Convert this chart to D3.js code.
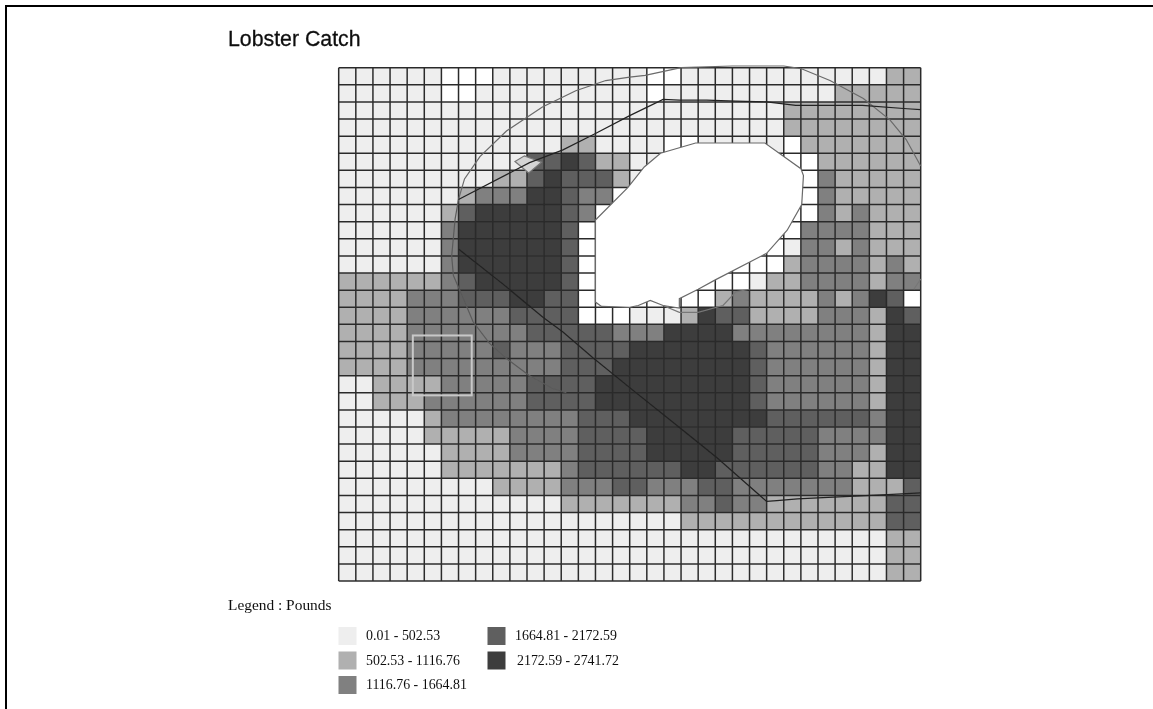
<!DOCTYPE html>
<html><head><meta charset="utf-8">
<script src="https://d3js.org/d3.v7.min.js"></script>
<style>html,body{margin:0;padding:0;background:#fff}svg{display:block}</style>
</head><body><svg id="c" width="1153" height="709"></svg>
<script>
// Catch class per cell, 30 rows of 34 columns: 0 = no catch, 1..5 = legend classes
const catchWest = [
"11111100011111111","11111100111111111","11111111111111111","11111111111111111",
"11111111111112211","11111111111445422","11111111122454442","11111112333554330",
"11111124555554300","11111135555554000","11111135555554000","11111135555554000",
"22222234555554000","22223334445544000","22223333334444000","22223333333444443",
"22223333343334444","22223333333334445","11222233333444455","11222333333444455",
"11111233333333444","11111222223333444","11111122223333444","11111122222223444",
"11111111122223334","11111111111112222","11111111111111111","11111111111111111",
"11111111111111111","11111111111111111"];
const catchEast = [
"10011111111111122","10111111111122222","11111111122222222","11111111122222222",
"11001111102222222","11000000000222222","10000000000322222","00000000000322222",
"00000000000323222","00000000003333222","00000000013323222","00000000023333232",
"00000001223333233","00000230222232354".replace("230","233").slice(0,5)+"23222232354","11125442222333254",
"33555533333333255","55555554333333255","55555554333333255","55555554333333255","55555554333333255",
"55555555444444355","45555544444333355","45555544444333255","44455444444332255",
"43334433333332224","22233433222222244","11122222222222244","11111111111111122",
"11111111111111122","11111111111111122"];
const classColors = ["#ffffff","#eeeeee","#b0b0b0","#808080","#5f5f5f","#3c3c3c"];
const legendLabels = ["0.01 - 502.53","502.53 - 1116.76","1116.76 - 1664.81","1664.81 - 2172.59","2172.59 - 2741.72"];
const lake = [[15.0,8.9],[16.9,7.0],[17.85,5.8],[18.8,5.0],[20.85,4.4],[24.9,4.4],[27.0,5.9],[27.15,6.3],[27.05,8.0],[26.2,9.5],[25.0,10.85],[22.0,12.4],[21.0,12.95],[19.9,13.5],[19.9,14.05],[18.95,13.9],[18.2,13.6],[17.5,13.9],[17.0,14.0],[15.35,13.95],[15.0,13.7]];
const island = [[10.3,5.48],[10.85,5.15],[11.85,5.52],[11.1,6.15]];
const outerArc = [[7.0,7.7],[7.35,6.5],[8.25,5.2],[9.8,3.7],[11.9,2.3],[13.85,1.35],[15.6,0.75],[17.0,0.55],[17.9,0.45],[20.0,0.0],[23.0,-0.1],[26.0,-0.1],[27.0,0.05],[28.7,0.75],[30.65,1.8],[32.2,3.05],[33.15,4.2],[34.0,5.75]];
const lowerArc = [[7.0,7.7],[6.8,8.85],[6.6,11.0],[6.7,12.15],[7.2,13.3],[7.85,14.85],[8.8,16.1],[9.8,17.0],[11.15,18.0],[12.5,18.75],[13.3,19.0]];
const diagonal = [[7.0,10.6],[9.6,12.65],[11.95,14.6],[13.1,15.45],[14.85,16.95],[17.0,18.7],[20.0,21.1],[22.1,22.8],[25.0,25.35],[25.6,25.3],[26.8,25.2],[28.9,25.1],[32.05,24.95],[34.0,24.85]];
const upperLine = [[7.0,7.7],[11.15,5.55],[13.1,4.8],[15.0,3.85],[17.0,2.8],[18.95,1.85],[19.9,1.9],[21.5,1.9],[23.2,1.95],[25.0,2.0],[26.7,2.2],[30.6,2.2],[33.2,2.4],[34.0,2.45]];
const shoreLower = [[18.95,13.9],[19.9,14.3],[21.0,14.3],[22.45,13.9],[23.2,13.1],[24.0,12.95]];
const shoreRight = [[33.6,12.95],[34.0,12.35]];
const box = [[4.33,15.65],[7.77,19.15]];

const svg = d3.select("#c");
const defs = svg.append("defs");
defs.append("filter").attr("id","soft").attr("x","-2%").attr("y","-2%").attr("width","104%").attr("height","104%")
  .append("feGaussianBlur").attr("stdDeviation",0.5);
defs.append("filter").attr("id","softText").attr("x","-5%").attr("y","-20%").attr("width","110%").attr("height","140%")
  .append("feGaussianBlur").attr("stdDeviation",0.35);

const cols = d3.range(34), rows = d3.range(30);
const x = d3.scaleLinear().domain([0,34]).range([338.7,920.7]);
const y = d3.scaleLinear().domain([0,30]).range([67.7,581]);
const color = d3.scaleOrdinal().domain(d3.range(6)).range(classColors);
const catchRows = catchWest.map((w,i)=>w+catchEast[i]);

// frame
const frame = svg.append("g").attr("stroke","#000").attr("stroke-width",2);
frame.append("line").attr("x1",5).attr("x2",1153).attr("y1",6).attr("y2",6);
frame.append("line").attr("x1",6).attr("x2",6).attr("y1",5).attr("y2",709);

svg.append("text").attr("x",228).attr("y",46).attr("font-family","Liberation Sans").attr("font-size",21.3)
  .attr("fill","#111").attr("stroke","#111").attr("stroke-width",0.3).attr("filter","url(#softText)").text("Lobster Catch");

const map = svg.append("g").attr("filter","url(#soft)");
const cells = rows.flatMap(r => cols.map(c => ({r,c,v:+catchRows[r][c]})));
map.selectAll("rect.cell").data(cells).join("rect").attr("class","cell")
  .attr("x",d=>x(d.c)).attr("y",d=>y(d.r)).attr("width",x(1)-x(0)).attr("height",y(1)-y(0))
  .attr("fill",d=>color(d.v)).attr("shape-rendering","crispEdges");
map.selectAll("line.v").data(d3.range(35)).join("line").attr("class","v")
  .attr("x1",d=>x(d)).attr("x2",d=>x(d)).attr("y1",y(0)).attr("y2",y(30)).attr("stroke","#2c2c2c").attr("stroke-width",1.5);
map.selectAll("line.h").data(d3.range(31)).join("line").attr("class","h")
  .attr("y1",d=>y(d)).attr("y2",d=>y(d)).attr("x1",x(0)).attr("x2",x(34)).attr("stroke","#2c2c2c").attr("stroke-width",1.5);

const path = d3.line().x(d=>x(d[0])).y(d=>y(d[1]));
const closed = d3.line().x(d=>x(d[0])).y(d=>y(d[1])).curve(d3.curveLinearClosed);
map.append("path").attr("d",closed(lake)).attr("fill","#fff").attr("stroke","#6a6a6a").attr("stroke-width",1.2);
map.append("path").attr("d",closed(island)).attr("fill","#d4d4d4").attr("stroke","#777").attr("stroke-width",1.2);
[[outerArc,"#6a6a6a"],[lowerArc,"#5a5a5a"],[diagonal,"#222"],[upperLine,"#222"],[shoreLower,"#777"],[shoreRight,"#777"]].forEach(([pts,col])=>{
  map.append("path").attr("d",path(pts)).attr("fill","none").attr("stroke",col).attr("stroke-width",1.2);
});
map.append("rect").attr("x",x(box[0][0])).attr("y",y(box[0][1])).attr("width",x(box[1][0])-x(box[0][0])).attr("height",y(box[1][1])-y(box[0][1]))
  .attr("fill","none").attr("stroke","#c8c8c8").attr("stroke-width",2);

// legend
const lg = svg.append("g").attr("font-family","Liberation Serif").attr("fill","#111").attr("filter","url(#softText)");
lg.append("text").attr("x",228).attr("y",610).attr("font-size",15.4).text("Legend : Pounds");
const slots = d3.scaleOrdinal().domain([0,1,2,3,4]).range([[338.5,627,366],[338.5,651.5,366],[338.5,676,366],[487.5,627,515],[487.5,651.5,517]]);
const items = lg.selectAll("g.item").data(legendLabels).join("g").attr("class","item");
items.append("rect").attr("x",(d,i)=>slots(i)[0]).attr("y",(d,i)=>slots(i)[1]).attr("width",18).attr("height",18).attr("fill",(d,i)=>classColors[i+1]);
items.append("text").attr("x",(d,i)=>slots(i)[2]).attr("y",(d,i)=>slots(i)[1]+13).attr("font-size",13.9).text(d=>d);
</script></body></html>
